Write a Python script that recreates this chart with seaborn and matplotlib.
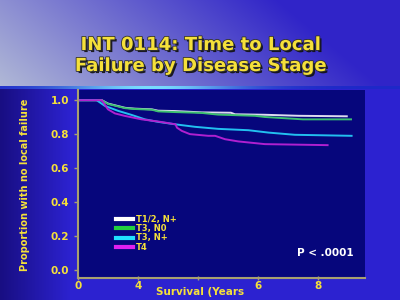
import numpy as np
import pandas as pd
import matplotlib
matplotlib.use("Agg")
import matplotlib.pyplot as plt
import matplotlib.patheffects as pe
from matplotlib.lines import Line2D
import seaborn as sns

# ---- data ----
t_white = [0, 0.79, 1.0, 1.57, 1.9, 2.46, 2.67, 3.23, 4.12, 5.1, 5.23, 6.23, 7.35, 8.96]
s_white = [1.0, 1.0, 0.98, 0.955, 0.95, 0.946, 0.938, 0.936, 0.928, 0.926, 0.917, 0.914, 0.908, 0.905]
t_green = [0, 0.79, 1.0, 1.57, 1.9, 2.46, 2.67, 3.23, 4.12, 4.67, 5.9, 6.23, 7.5, 9.1]
s_green = [1.0, 1.0, 0.978, 0.953, 0.948, 0.944, 0.934, 0.930, 0.925, 0.915, 0.908, 0.901, 0.887, 0.887]
t_cyan = [0, 0.62, 0.9, 1.34, 1.79, 2.23, 2.68, 3.23, 3.9, 4.67, 5.68, 6.35, 7.23, 9.12]
s_cyan = [1.0, 1.0, 0.966, 0.937, 0.913, 0.887, 0.872, 0.858, 0.843, 0.831, 0.823, 0.809, 0.796, 0.79]
t_mag = [0, 0.79, 1.0, 1.23, 1.57, 2.12, 2.68, 3.25, 3.3, 3.46, 3.73, 4.34, 4.57, 4.9, 5.34, 6.23, 8.32]
s_mag = [1.0, 1.0, 0.946, 0.922, 0.907, 0.887, 0.874, 0.858, 0.838, 0.819, 0.80, 0.79, 0.79, 0.77, 0.757, 0.741, 0.735]

groups = ["T1/2, N+", "T3, N0", "T3, N+", "T4"]
colors = ["#dcdcf0", "#3cc070", "#22c0f0", "#b020d0"]
legend_colors = ["#ffffff", "#22d040", "#20e0ff", "#e020f0"]
x_ticks = [0, 2, 4, 6, 8]
x_tick_labels = ["0", "4", "", "6", "8"]
y_ticks = [0.0, 0.2, 0.4, 0.6, 0.8, 1.0]
y_tick_labels = ["0.0", "0.2", "0.4", "0.6", "0.8", "1.0"]
title_lines = ["INT 0114: Time to Local", "Failure by Disease Stage"]
x_label = "Survival (Years"
y_label = "Proportion with no local failure"
p_text = "P < .0001"

frames = []
for g, t, s in zip(groups, [t_white, t_green, t_cyan, t_mag],
                   [s_white, s_green, s_cyan, s_mag]):
    frames.append(pd.DataFrame({"time": t, "surv": s, "group": g}))
df = pd.concat(frames, ignore_index=True)

# ---- figure & background ----
fig = plt.figure(figsize=(4, 3), dpi=100)
bg = fig.add_axes([0, 0, 1, 1], zorder=-10)
bg.set_axis_off()
H, W = 300, 400
yy, xx = np.mgrid[0:H, 0:W]
img = np.zeros((H, W, 3))
body = np.array([44, 34, 208]) / 255
dark = np.array([24, 14, 130]) / 255
fx = np.clip(xx / 70.0, 0, 1)[..., None]
img[:] = dark * (1 - fx) + body * fx
head_left = np.array([176, 184, 214]) / 255
head_right = np.array([48, 36, 200]) / 255
hx = np.clip((xx + (85 - yy) * 1.2) / 380.0, 0, 1)[..., None]
hdr = head_left * (1 - hx) + head_right * hx
mask = (yy < 86)[..., None]
img = np.where(mask, hdr, img)
band = (yy >= 86) & (yy < 89)
glow = np.exp(-((xx - 150) / 90.0) ** 2)[..., None]
bandcol = np.array([30, 40, 200]) / 255 * (1 - glow) + np.array([120, 220, 255]) / 255 * glow
img = np.where(band[..., None], bandcol, img)
bg.imshow(img, extent=[0, 1, 0, 1], aspect="auto", origin="upper")
bg.set_xlim(0, 1)
bg.set_ylim(0, 1)

yellow = "#f5e03a"
for i, line in enumerate(title_lines):
    fig.text(0.5, 1 - (45 + i * 21) / 300, line, ha="center", va="center",
             color=yellow, fontsize=13, fontweight="bold",
             family="DejaVu Sans",
             path_effects=[pe.withSimplePatchShadow(offset=(1.5, -1.5),
                                                    shadow_rgbFace="#101010",
                                                    alpha=0.9),
                           pe.withStroke(linewidth=1.2, foreground="#303030")])

# ---- plot ----
ax = fig.add_axes([78 / 400, 1 - 277.5 / 300, (365 - 78) / 400, (277.5 - 90) / 300])
ax.set_facecolor("#06067c")
sns.lineplot(data=df, x="time", y="surv", hue="group", hue_order=groups,
             palette=colors, estimator=None, sort=False,
             linewidth=1.4, ax=ax, legend=False)
ax.set_xlim(0, (365 - 78) / 30.0)
ax.set_ylim(-0.045, 1.06)
ax.set_xticks(x_ticks)
ax.set_xticklabels(x_tick_labels)
ax.set_yticks(y_ticks)
ax.set_yticklabels(y_tick_labels)
for sp in ["top", "right"]:
    ax.spines[sp].set_visible(False)
for sp in ["left", "bottom"]:
    ax.spines[sp].set_color("#a8a070")
    ax.spines[sp].set_linewidth(1.5)
ax.tick_params(axis="both", colors="#a8a070", labelcolor=yellow,
               labelsize=7.5, length=3, width=1)
ax.tick_params(axis="x", direction="inout", pad=1)
for lab in ax.get_xticklabels() + ax.get_yticklabels():
    lab.set_fontweight("bold")
ax.set_xlabel("")
ax.set_ylabel("")
fig.text(200 / 400, 1 - 292 / 300, x_label, ha="center", va="center",
         color=yellow, fontsize=7.5, fontweight="bold")
fig.text(25 / 400, 1 - 185 / 300, y_label, ha="center", va="center",
         rotation=90, color=yellow, fontsize=7, fontweight="bold")

handles = [Line2D([0], [0], color=c, lw=3) for c in legend_colors]
leg = ax.legend(handles, groups, loc="lower left",
                bbox_to_anchor=((112 - 78) / 287, (277.5 - 256) / 187.5),
                frameon=False, fontsize=6, handlelength=2.0,
                handletextpad=0.4, labelspacing=0.05, borderpad=0)
for txt in leg.get_texts():
    txt.set_color(yellow)
    txt.set_fontweight("bold")

ax.text(0.96, 0.13, p_text, transform=ax.transAxes, ha="right",
        va="center", color="white", fontsize=7.5, fontweight="bold")

fig.savefig("out.png", dpi=100)
